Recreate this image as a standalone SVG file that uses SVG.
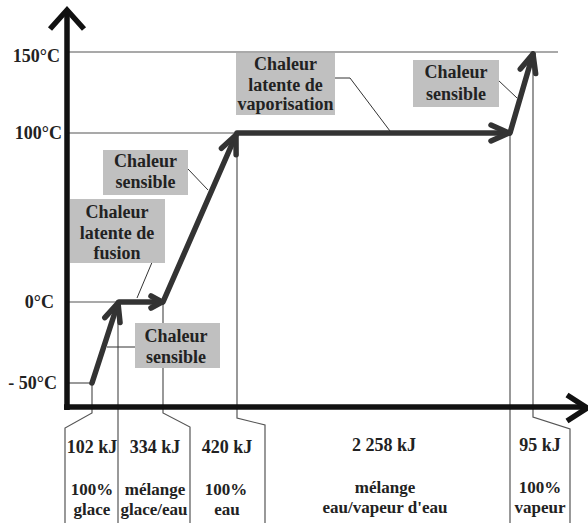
<svg xmlns="http://www.w3.org/2000/svg" width="588" height="523" viewBox="0 0 588 523">
<style>
.bg{fill:#ffffff}
.axis{fill:none;stroke:#111;stroke-width:5.5;stroke-linejoin:miter}
.grid{fill:none;stroke:#555;stroke-width:1.2}
.curve{fill:none;stroke:#333;stroke-width:5.5;stroke-linecap:round}
.lead{fill:none;stroke:#333;stroke-width:1}
.box{fill:#c0c0c0}
.t{font-family:"Liberation Serif","Times New Roman",serif;font-weight:bold;font-size:18px;fill:#222}
.s{font-size:17px}
.c{text-anchor:middle}
.e{text-anchor:end}
</style>
<defs>
<marker id="ah" viewBox="-24 -12 30 24" refX="0" refY="0" markerWidth="30" markerHeight="24" markerUnits="userSpaceOnUse" orient="auto">
<path d="M-18,-8 L0,0 L-18,8" fill="none" stroke="#333" stroke-width="5.5" stroke-linejoin="round" stroke-linecap="round"/>
</marker>
<marker id="ahs" viewBox="-24 -12 30 24" refX="0" refY="0" markerWidth="30" markerHeight="24" markerUnits="userSpaceOnUse" orient="auto">
<path d="M-11,-6 L0,0 L-11,6" fill="none" stroke="#333" stroke-width="5.5" stroke-linejoin="round" stroke-linecap="round"/>
</marker>
</defs>
<rect class="bg" x="0" y="0" width="588" height="523"/>

<g id="connectors">
<path class="grid" d="M67,52 H558"/>
<path class="grid" d="M67,133 H510"/>
<path class="grid" d="M67,302 H118"/>
<path class="grid" d="M67,383 H92"/>
<path class="grid" d="M92,383 V413 L65,428 V523"/>
<path class="grid" d="M118,302 V523"/>
<path class="grid" d="M163,302 V413 L190,427 V523"/>
<path class="grid" d="M237,133 V418 L265,425 V523"/>
<path class="grid" d="M510,133 V523"/>
<path class="grid" d="M533,52 V417 L570,429 V523"/>
<path class="curve" d="M92,383 L118,303" marker-end="url(#ah)"/>
<path class="curve" d="M119,302 L162,302" marker-end="url(#ahs)"/>
<path class="curve" d="M163,302 L236,135" marker-end="url(#ah)"/>
<path class="curve" d="M237,133 L509,133" marker-end="url(#ah)"/>
<path class="curve" d="M510,133 L533,54" marker-end="url(#ah)"/>
<path class="lead" d="M188,169 L208,190"/>
<path class="lead" d="M153,260 L137,298"/>
<path class="lead" d="M135,347 H107"/>
<path class="lead" d="M332,78 H350 L390,131"/>
<path class="lead" d="M498,80 L517,98"/>
</g>

<g id="axes">
<path class="axis" d="M67,10 V410"/>
<path class="axis" d="M50,29 L67,10 L84,29"/>
<path class="axis" d="M64,407 H585"/>
<path class="axis" d="M567,395 L587,408 L567,421"/>
</g>

<g id="y-labels">
<text class="t e" x="60" y="62">150°C</text>
<text class="t e" x="62" y="139">100°C</text>
<text class="t e" x="54" y="308">0°C</text>
<text class="t e" x="57" y="389">- 50°C</text>
</g>

<g id="label-sensible-1">
<rect class="box" x="103" y="150" width="85" height="45"/>
<text class="t c" x="145.5" y="167">Chaleur</text>
<text class="t c" x="145.5" y="188">sensible</text>
</g>

<g id="label-fusion">
<rect class="box" x="70" y="199" width="95" height="64"/>
<text class="t c" x="117" y="218">Chaleur</text>
<text class="t c" x="117" y="239">latente de</text>
<text class="t c" x="117" y="259">fusion</text>
</g>

<g id="label-sensible-2">
<rect class="box" x="135" y="323" width="85" height="45"/>
<text class="t c" x="176" y="342">Chaleur</text>
<text class="t c" x="176" y="363">sensible</text>
</g>

<g id="label-vaporisation">
<rect class="box" x="236" y="53" width="99" height="62"/>
<text class="t c" x="285.5" y="70">Chaleur</text>
<text class="t c" x="285.5" y="91">latente de</text>
<text class="t c" x="285.5" y="110">vaporisation</text>
</g>

<g id="label-sensible-3">
<rect class="box" x="413" y="60" width="86" height="47"/>
<text class="t c" x="456" y="78">Chaleur</text>
<text class="t c" x="456" y="100">sensible</text>
</g>

<g id="col-glace">
<text class="t c" x="92" y="453">102 kJ</text>
<text class="t s c" x="92" y="495">100%</text>
<text class="t s c" x="92" y="515">glace</text>
</g>
<g id="col-glace-eau">
<text class="t c" x="155" y="453">334 kJ</text>
<text class="t s c" x="155" y="495">mélange</text>
<text class="t s c" x="154" y="515">glace/eau</text>
</g>
<g id="col-eau">
<text class="t c" x="227" y="453">420 kJ</text>
<text class="t s c" x="226" y="495">100%</text>
<text class="t s c" x="227" y="515">eau</text>
</g>
<g id="col-eau-vapeur">
<text class="t c" x="384" y="451">2 258 kJ</text>
<text class="t s c" x="385" y="493">mélange</text>
<text class="t s c" x="385" y="513">eau/vapeur d'eau</text>
</g>
<g id="col-vapeur">
<text class="t c" x="540" y="451">95 kJ</text>
<text class="t s c" x="540" y="493">100%</text>
<text class="t s c" x="540" y="513">vapeur</text>
</g>
</svg>
